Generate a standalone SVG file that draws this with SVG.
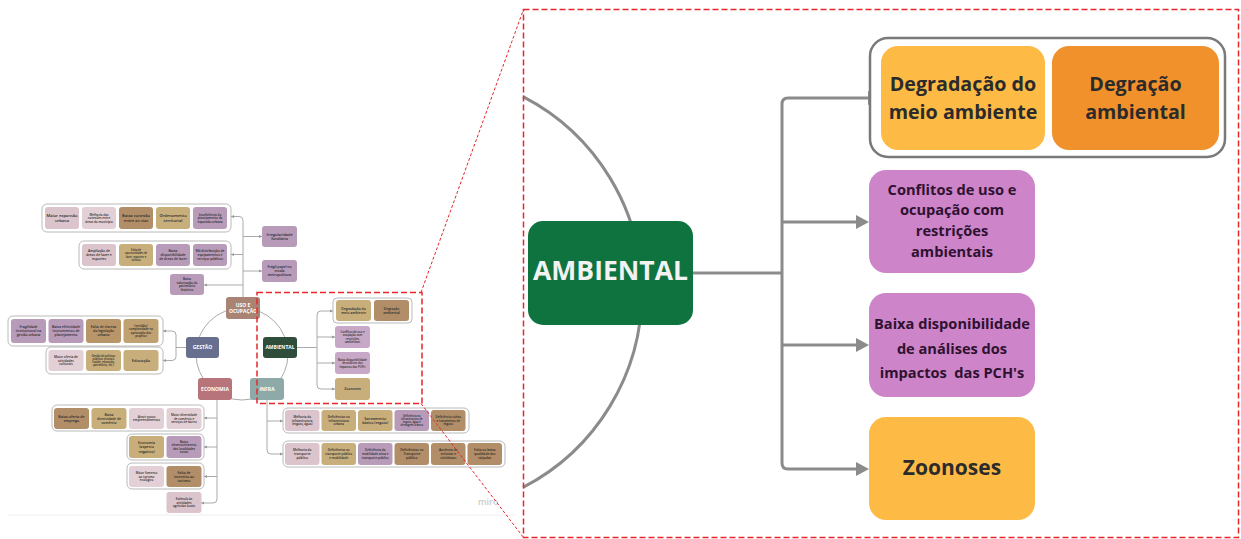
<svg xmlns="http://www.w3.org/2000/svg" width="1241" height="539" viewBox="0 0 1241 539">
<defs>
<style>
.cb{stroke:#a0a0a0;stroke-width:.9;fill:none}
.ca{marker-end:url(#as)}
.sg{fill:#fff;stroke:#a8a8a8;stroke-width:.8}
.pk{fill:#dbc4cb}.pl{fill:#e3d0d6}.br{fill:#b18e68}.tn{fill:#c8ae7b}.pu{fill:#b89ab9}.pul{fill:#c7a9c7}
.st{font-family:"Open Sans","Liberation Sans",sans-serif;font-weight:600;fill:#2a2a2a;text-anchor:middle}
.wt{font-family:"Open Sans","Liberation Sans",sans-serif;font-weight:700;fill:#fff;text-anchor:middle;font-size:5px}
.bc{stroke:#8b8b8b;stroke-width:3;fill:none}
.bm{marker-end:url(#ah)}
.bt{font-family:"Open Sans","Liberation Sans",sans-serif;font-weight:700;text-anchor:middle}
.dk{fill:#2b2b2b}.dp{fill:#2e1230}
.rd{fill:none;stroke:#e8262b;stroke-width:1.5;stroke-dasharray:6 3}
.rl{stroke:#e8262b;stroke-width:1;stroke-dasharray:3 2}
</style>
<marker id="ah" markerUnits="userSpaceOnUse" markerWidth="14" markerHeight="15" refX="6" refY="7" orient="auto"><path d="M0,0 L13,7 L0,14 z" fill="#8b8b8b"/></marker>
<marker id="as" markerUnits="userSpaceOnUse" markerWidth="4" markerHeight="4" refX="3" refY="1.6" orient="auto"><path d="M0,0 L3,1.6 L0,3.2 z" fill="#999"/></marker>
</defs>
<rect width="1241" height="539" fill="#fff"/>
<line x1="8" y1="515" x2="515" y2="515" stroke="#eeeeee" stroke-width="1"/>
<text x="478" y="505" font-family="'Open Sans','Liberation Sans',sans-serif" font-weight="600" font-size="9" fill="#cccccc">miro</text>

<g id="connectors-mini" class="cb">
<circle cx="242" cy="354" r="46"/>
<path d="M243,297 V220.5 Q243,216.5 239,216.5 H231" class="ca"/>
<path d="M243,254.5 H231" class="ca"/>
<path d="M243,285 H204" class="ca"/>
<path d="M243,236.5 H262" class="ca"/>
<path d="M243,271 H262" class="ca"/>
<path d="M186,347.5 H176"/>
<path d="M176,347.5 V335 Q176,331 172,331 H163" class="ca"/>
<path d="M176,347.5 V356.5 Q176,360.5 172,360.5 H163" class="ca"/>
<path d="M297,347.5 H317"/>
<path d="M317,347.5 V315 Q317,311 321,311 H333" class="ca"/>
<path d="M317,337 H335" class="ca"/>
<path d="M317,363 H335" class="ca"/>
<path d="M317,347.5 V385 Q317,389 321,389 H335" class="ca"/>
<path d="M217,400 V499 Q217,503 213,503 H201" class="ca"/>
<path d="M217,418 H204" class="ca"/>
<path d="M217,447 H204" class="ca"/>
<path d="M217,476.5 H204" class="ca"/>
<path d="M267,400 V450 Q267,454 271,454 H283" class="ca"/>
<path d="M267,421 H283" class="ca"/>
</g>

<g id="uso-group1">
<rect class="sg" x="42" y="204" width="189" height="28" rx="5"/>
<rect class="pk" x="45" y="207" width="34" height="22" rx="3"/>
<text class="st" font-size="4"><tspan x="62" y="217.1">Maior expansão</tspan><tspan x="62" dy="4.6">urbana</tspan></text>
<rect class="pl" x="82" y="207" width="34" height="22" rx="3"/>
<text class="st" font-size="3"><tspan x="99" y="215.5">Melhoria das</tspan><tspan x="99" dy="3.6">conexões entre</tspan><tspan x="99" dy="3.6">áreas do município</tspan></text>
<rect class="br" x="119" y="207" width="34" height="22" rx="3"/>
<text class="st" font-size="4"><tspan x="136" y="217.1">Baixa conexão</tspan><tspan x="136" dy="4.6">entre as vias</tspan></text>
<rect class="tn" x="156" y="207" width="34" height="22" rx="3"/>
<text class="st" font-size="4"><tspan x="173" y="217.1">Ordenamento</tspan><tspan x="173" dy="4.6">territorial</tspan></text>
<rect class="pu" x="193" y="207" width="34" height="22" rx="3"/>
<text class="st" font-size="3"><tspan x="210" y="215.5">Insuficiência do</tspan><tspan x="210" dy="3.6">planejamento da</tspan><tspan x="210" dy="3.6">expansão urbana</tspan></text>
</g>

<g id="uso-group2">
<rect class="sg" x="79" y="241" width="152" height="28" rx="5"/>
<rect class="pk" x="82" y="244" width="34" height="22" rx="3"/>
<text class="st" font-size="3.4"><tspan x="99" y="252.3">Ampliação de</tspan><tspan x="99" dy="3.9">áreas de lazer e</tspan><tspan x="99" dy="3.9">esportes</tspan></text>
<rect class="tn" x="119" y="244" width="34" height="22" rx="3"/>
<text class="st" font-size="2.6"><tspan x="136" y="251.3">Falta de</tspan><tspan x="136" dy="3.1">oportunidades de</tspan><tspan x="136" dy="3.1">lazer, esportes e</tspan><tspan x="136" dy="3.1">cultura</tspan></text>
<rect class="pu" x="156" y="244" width="34" height="22" rx="3"/>
<text class="st" font-size="3.4"><tspan x="173" y="252.3">Baixa</tspan><tspan x="173" dy="3.9">disponibilidade</tspan><tspan x="173" dy="3.9">de áreas de lazer</tspan></text>
<rect class="pu" x="193" y="244" width="34" height="22" rx="3"/>
<text class="st" font-size="3.2"><tspan x="210" y="252.3">Má distribuição de</tspan><tspan x="210" dy="3.8">equipamentos e</tspan><tspan x="210" dy="3.8">serviços públicos</tspan></text>
</g>

<g id="uso-patrimonio">
<rect class="pu" x="170" y="274" width="34" height="21" rx="3"/>
<text class="st" font-size="3"><tspan x="187" y="280.3">Baixa</tspan><tspan x="187" dy="3.5">valorização do</tspan><tspan x="187" dy="3.5">patrimônio</tspan><tspan x="187" dy="3.5">histórico</tspan></text>
</g>
<g id="uso-irregularidade">
<rect class="pu" x="262" y="226" width="35" height="21" rx="3"/>
<text class="st" font-size="3.8"><tspan x="279.5" y="235.6">Irregularidade</tspan><tspan x="279.5" dy="4.5">fundiária</tspan></text>
</g>
<g id="uso-fragil">
<rect class="pu" x="262" y="260" width="35" height="22" rx="3"/>
<text class="st" font-size="3.4"><tspan x="279.5" y="268.2">Frágil papel no</tspan><tspan x="279.5" dy="4">escala</tspan><tspan x="279.5" dy="4">metropolitana</tspan></text>
</g>

<g id="cat-uso">
<rect x="226" y="297" width="34" height="22" rx="3" fill="#a98474"/>
<text class="wt"><tspan x="243" y="306.8">USO E</tspan><tspan x="243" dy="6">OCUPAÇÃO</tspan></text>
</g>
<g id="cat-gestao">
<rect x="186" y="337" width="33" height="21" rx="3" fill="#686e8d"/>
<text class="wt" x="202.5" y="349.3">GESTÃO</text>
</g>
<g id="cat-ambiental-mini">
<rect x="263" y="337" width="34" height="21" rx="3" fill="#2e4e3b"/>
<text class="wt" x="280" y="349.3">AMBIENTAL</text>
</g>
<g id="cat-economia">
<rect x="198" y="378" width="34" height="22" rx="3" fill="#b7747a"/>
<text class="wt" x="215" y="390.8">ECONOMIA</text>
</g>
<g id="cat-infra">
<rect x="250" y="378" width="34" height="22" rx="3" fill="#8eaaa8"/>
<text class="wt" x="267" y="390.8">INFRA</text>
</g>

<g id="gestao-group1">
<rect class="sg" x="8" y="316" width="155" height="30" rx="5"/>
<rect class="pu" x="11" y="319" width="35" height="24" rx="3"/>
<text class="st" font-size="3.4"><tspan x="28.5" y="328.2">Fragilidade</tspan><tspan x="28.5" dy="4">institucional na</tspan><tspan x="28.5" dy="4">gestão urbana</tspan></text>
<rect class="pu" x="48.5" y="319" width="35" height="24" rx="3"/>
<text class="st" font-size="3.4"><tspan x="66" y="328.2">Baixa efetividade</tspan><tspan x="66" dy="4">instrumentos de</tspan><tspan x="66" dy="4">planejamento</tspan></text>
<rect x="86" y="319" width="35" height="24" rx="3" fill="#b99669"/>
<text class="st" font-size="3.4"><tspan x="103.5" y="328.2">Falta de clareza</tspan><tspan x="103.5" dy="4">da legislação</tspan><tspan x="103.5" dy="4">urbana</tspan></text>
<rect x="123.5" y="319" width="35" height="24" rx="3" fill="#c0a171"/>
<text class="st" font-size="2.9"><tspan x="141" y="326.9">Lentidão/</tspan><tspan x="141" dy="3.4">complexidade na</tspan><tspan x="141" dy="3.4">aprovação dos</tspan><tspan x="141" dy="3.4">projetos</tspan></text>
</g>

<g id="gestao-group2">
<rect class="sg" x="46" y="347" width="117" height="27" rx="5"/>
<rect class="pl" x="48.5" y="350" width="35" height="21" rx="3"/>
<text class="st" font-size="3.2"><tspan x="66" y="357.8">Maior oferta de</tspan><tspan x="66" dy="3.8">atividades</tspan><tspan x="66" dy="3.8">culturais</tspan></text>
<rect class="tn" x="86" y="350" width="35" height="21" rx="3"/>
<text class="st" font-size="2.6"><tspan x="103.5" y="356.8">Gestão de políticas</tspan><tspan x="103.5" dy="3.1">públicas setoriais</tspan><tspan x="103.5" dy="3.1">(saúde, educação,</tspan><tspan x="103.5" dy="3.1">patrimônio, etc.)</tspan></text>
<rect class="tn" x="123.5" y="350" width="35" height="21" rx="3"/>
<text class="st" font-size="4" x="141" y="361.9">Educação</text>
</g>

<g id="ambiental-mini-group">
<rect class="sg" x="333" y="298" width="79" height="25" rx="4"/>
<rect class="tn" x="336" y="300" width="35" height="21" rx="3"/>
<text class="st" font-size="3.4"><tspan x="353.5" y="309.7">Degradação do</tspan><tspan x="353.5" dy="4">meio ambiente</tspan></text>
<rect class="br" x="374" y="300" width="35" height="21" rx="3"/>
<text class="st" font-size="3.4"><tspan x="391.5" y="309.7">Degração</tspan><tspan x="391.5" dy="4">ambiental</tspan></text>
</g>
<g id="ambiental-mini-conflitos">
<rect class="pul" x="335" y="326" width="35" height="22" rx="3"/>
<text class="st" font-size="2.8"><tspan x="352.5" y="333">Conflitos de uso e</tspan><tspan x="352.5" dy="3.3">ocupação com</tspan><tspan x="352.5" dy="3.3">restrições</tspan><tspan x="352.5" dy="3.3">ambientais</tspan></text>
</g>
<g id="ambiental-mini-baixa">
<rect class="pul" x="335" y="352" width="35" height="22" rx="3"/>
<text class="st" font-size="2.8"><tspan x="352.5" y="360.5">Baixa disponibilidade</tspan><tspan x="352.5" dy="3.5">de análises dos</tspan><tspan x="352.5" dy="3.5">impactos das PCH's</tspan></text>
</g>
<g id="ambiental-mini-zoonoses">
<rect class="tn" x="335" y="378" width="35" height="22" rx="3"/>
<text class="st" font-size="3.6" x="352.5" y="390.3">Zoonoses</text>
</g>

<g id="economia-group1">
<rect class="sg" x="52" y="405" width="152" height="26" rx="5"/>
<rect class="br" x="54" y="408" width="35" height="21" rx="3"/>
<text class="st" font-size="3.6"><tspan x="71.5" y="417.6">Baixa oferta de</tspan><tspan x="71.5" dy="4.3">emprego</tspan></text>
<rect class="tn" x="91.5" y="408" width="35" height="21" rx="3"/>
<text class="st" font-size="3.4"><tspan x="109" y="415.7">Baixa</tspan><tspan x="109" dy="4">diversidade de</tspan><tspan x="109" dy="4">comércio</tspan></text>
<rect class="pl" x="129" y="408" width="35" height="21" rx="3"/>
<text class="st" font-size="3"><tspan x="146.5" y="417.75">Atrair novos</tspan><tspan x="146.5" dy="3.6">empreendimentos</tspan></text>
<rect class="pl" x="166.5" y="408" width="35" height="21" rx="3"/>
<text class="st" font-size="3"><tspan x="184" y="415.95">Maior diversidade</tspan><tspan x="184" dy="3.6">de comércio e</tspan><tspan x="184" dy="3.6">serviços de bairro</tspan></text>
</g>
<g id="economia-group2">
<rect class="sg" x="127" y="434" width="77" height="26" rx="5"/>
<rect class="tn" x="129" y="436" width="35" height="22" rx="3"/>
<text class="st" font-size="3.6"><tspan x="146.5" y="444">Economia</tspan><tspan x="146.5" dy="4.3">(aspecto</tspan><tspan x="146.5" dy="4.3">negativo)</tspan></text>
<rect class="pu" x="166.5" y="436" width="35" height="22" rx="3"/>
<text class="st" font-size="3"><tspan x="184" y="442.8">Baixo</tspan><tspan x="184" dy="3.5">desenvolvimento</tspan><tspan x="184" dy="3.5">das localidades</tspan><tspan x="184" dy="3.5">rurais</tspan></text>
</g>
<g id="economia-group3">
<rect class="sg" x="127" y="463" width="77" height="26" rx="5"/>
<rect class="pl" x="129" y="466" width="35" height="21" rx="3"/>
<text class="st" font-size="3"><tspan x="146.5" y="473.95">Maior fomento</tspan><tspan x="146.5" dy="3.6">ao turismo</tspan><tspan x="146.5" dy="3.6">ecológico</tspan></text>
<rect class="br" x="166.5" y="466" width="35" height="21" rx="3"/>
<text class="st" font-size="3.4"><tspan x="184" y="473.7">Falta de</tspan><tspan x="184" dy="4">incentivo ao</tspan><tspan x="184" dy="4">turismo</tspan></text>
</g>
<g id="economia-estimulo">
<rect class="pk" x="166.5" y="492" width="35" height="21" rx="3"/>
<text class="st" font-size="3"><tspan x="184" y="499.95">Estímulo às</tspan><tspan x="184" dy="3.6">atividades</tspan><tspan x="184" dy="3.6">agrícolas locais</tspan></text>
</g>

<g id="infra-group1">
<rect class="sg" x="283" y="408" width="186" height="25" rx="5"/>
<rect class="pk" x="285" y="410" width="34.5" height="21" rx="3"/>
<text class="st" font-size="3"><tspan x="302.25" y="417.95">Melhoria da</tspan><tspan x="302.25" dy="3.6">infraestrutura</tspan><tspan x="302.25" dy="3.6">(esgoto, água)</tspan></text>
<rect class="tn" x="321.5" y="410" width="34.5" height="21" rx="3"/>
<text class="st" font-size="3"><tspan x="338.75" y="417.95">Deficiências na</tspan><tspan x="338.75" dy="3.6">infraestrutura</tspan><tspan x="338.75" dy="3.6">urbana</tspan></text>
<rect class="tn" x="358" y="410" width="34.5" height="21" rx="3"/>
<text class="st" font-size="3.6"><tspan x="375.25" y="419.6">Saneamento</tspan><tspan x="375.25" dy="4.3">básico (esgoto)</tspan></text>
<rect class="pu" x="394.5" y="410" width="34.5" height="21" rx="3"/>
<text class="st" font-size="2.6"><tspan x="411.75" y="416.76">Deficiência na</tspan><tspan x="411.75" dy="3.1">infraestrutura de</tspan><tspan x="411.75" dy="3.1">esgoto, água e</tspan><tspan x="411.75" dy="3.1">drenagem urbana</tspan></text>
<rect class="br" x="431" y="410" width="34.5" height="21" rx="3"/>
<text class="st" font-size="3"><tspan x="448.25" y="417.95">Deficiência coleta</tspan><tspan x="448.25" dy="3.6">e tratamento de</tspan><tspan x="448.25" dy="3.6">esgoto</tspan></text>
</g>
<g id="infra-group2">
<rect class="sg" x="283" y="441" width="222" height="26" rx="5"/>
<rect class="pk" x="285" y="443" width="34.5" height="22" rx="3"/>
<text class="st" font-size="3.2"><tspan x="302.25" y="451.3">Melhoria do</tspan><tspan x="302.25" dy="3.8">transporte</tspan><tspan x="302.25" dy="3.8">público</tspan></text>
<rect class="tn" x="321.5" y="443" width="34.5" height="22" rx="3"/>
<text class="st" font-size="3"><tspan x="338.75" y="451.45">Deficiências no</tspan><tspan x="338.75" dy="3.6">transporte público</tspan><tspan x="338.75" dy="3.6">e mobilidade</tspan></text>
<rect class="pu" x="358" y="443" width="34.5" height="22" rx="3"/>
<text class="st" font-size="3"><tspan x="375.25" y="451.45">Deficiência da</tspan><tspan x="375.25" dy="3.6">mobilidade ativa e</tspan><tspan x="375.25" dy="3.6">transporte público</tspan></text>
<rect class="br" x="394.5" y="443" width="34.5" height="22" rx="3"/>
<text class="st" font-size="3.2"><tspan x="411.75" y="451.3">Deficiências no</tspan><tspan x="411.75" dy="3.8">Transporte</tspan><tspan x="411.75" dy="3.8">público</tspan></text>
<rect class="br" x="431" y="443" width="34.5" height="22" rx="3"/>
<text class="st" font-size="3.2"><tspan x="448.25" y="451.3">Ausência de</tspan><tspan x="448.25" dy="3.8">ciclovias e</tspan><tspan x="448.25" dy="3.8">ciclofaixas</tspan></text>
<rect class="br" x="467.5" y="443" width="34.5" height="22" rx="3"/>
<text class="st" font-size="3.2"><tspan x="484.75" y="451.3">Falta ou baixa</tspan><tspan x="484.75" dy="3.8">qualidade das</tspan><tspan x="484.75" dy="3.8">calçadas</tspan></text>
</g>

<g id="connectors-main" class="bc">
<path d="M523,96.6 A220,220 0 0 1 523,487.4"/>
<path d="M693,273 H782"/>
<path d="M788,98 Q782,98 782,104 V463 Q782,469 788,469"/>
<path d="M788,98 H874" class="bm"/>
<path d="M782,222 H862" class="bm"/>
<path d="M782,345 H862" class="bm"/>
<path d="M788,469 H862" class="bm"/>
</g>

<g id="node-ambiental">
<rect x="528" y="221" width="165" height="104" rx="15" fill="#0f7340"/>
<text class="bt" x="610.5" y="280" font-size="26.5" fill="#f2f2f2">AMBIENTAL</text>
</g>

<g id="node-degradacao-group">
<rect x="870" y="38" width="355" height="119" rx="18" fill="#fff" stroke="#7a7a7a" stroke-width="2.5"/>
<g id="node-degradacao">
<rect x="881" y="46" width="164" height="104" rx="17" fill="#fdbb46"/>
<text class="bt dk" font-size="19.7"><tspan x="963" y="90.5">Degradação do</tspan><tspan x="963" dy="28">meio ambiente</tspan></text>
</g>
<g id="node-degracao">
<rect x="1052" y="46" width="167" height="104" rx="17" fill="#f0912b"/>
<text class="bt dk" font-size="19.7"><tspan x="1135.5" y="90.5">Degração</tspan><tspan x="1135.5" dy="28">ambiental</tspan></text>
</g>
</g>

<g id="node-conflitos">
<rect x="869" y="170" width="166" height="103" rx="17" fill="#cd84c9"/>
<text class="bt dp" font-size="14.6"><tspan x="952" y="194.5">Conflitos de uso e</tspan><tspan x="952" dy="20.7">ocupação com</tspan><tspan x="952" dy="20.7">restrições</tspan><tspan x="952" dy="20.7">ambientais</tspan></text>
</g>

<g id="node-baixa">
<rect x="869" y="293" width="166" height="104" rx="17" fill="#cd84c9"/>
<text class="bt dp" font-size="14.6" style="white-space:pre"><tspan x="952" y="329">Baixa disponibilidade</tspan><tspan x="952" dy="24.5">de análises dos</tspan><tspan x="952" dy="24.5">impactos  das PCH's</tspan></text>
</g>

<g id="node-zoonoses">
<rect x="869" y="417" width="166" height="103" rx="17" fill="#fdbb46"/>
<text class="bt dk" x="952" y="474.5" font-size="21">Zoonoses</text>
</g>

<g id="zoom-frame">
<rect class="rd" x="257" y="292.5" width="165" height="111"/>
<rect class="rd" x="523.5" y="9.5" width="715" height="528"/>
<line class="rl" x1="421" y1="292.5" x2="523.5" y2="9.5"/>
<line class="rl" x1="421" y1="403.5" x2="523.5" y2="537.5"/>
</g>
</svg>
